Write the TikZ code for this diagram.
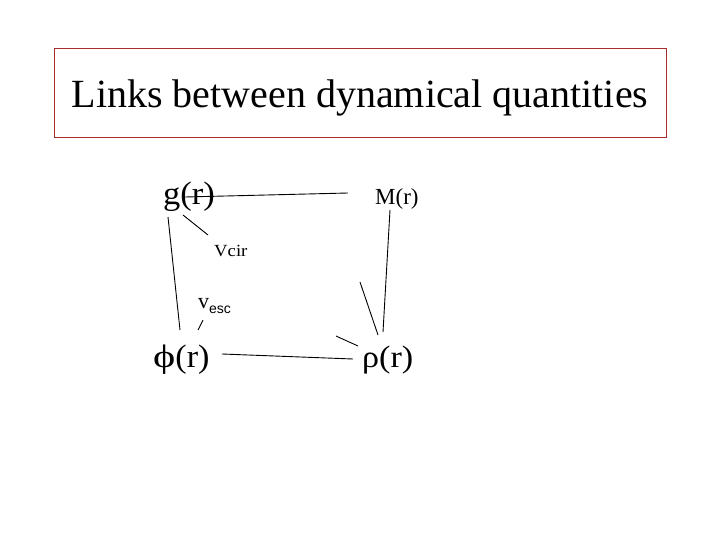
\documentclass[tikz,border=0pt]{standalone}
\usepackage{fontspec}
\setmainfont{Liberation Serif}
\newfontfamily\arialf{Liberation Sans}
\definecolor{boxred}{RGB}{165,45,45}
\begin{document}
\begin{tikzpicture}[x=1pt,y=-1pt,
  lbl/.style={inner sep=0pt,anchor=base west},
  link/.style={draw=black,line width=0.9pt}]
\useasboundingbox (0,0) rectangle (720,540);
\fill[white] (0,0) rectangle (720,540);
% title box
\draw[boxred,line width=0.9pt] (54,48) rectangle (666,137);
\node[inner sep=0pt,anchor=base] (title) at (360,108) {\fontsize{40}{44}\selectfont Links between dynamical quantities};
% quantities
\node[lbl] (g) at (163,205) {\scalebox{1.06}[1]{\fontsize{32.5}{36}\selectfont g(r)}};
\node[lbl] (M) at (375,205) {\fontsize{23}{26}\selectfont M(r)};
\node[lbl] (vcir) at (214,256) {\scalebox{1.1}[1]{\fontsize{17}{19}\selectfont Vcir}};
\node[lbl] (vesc) at (198,308) {\fontsize{22}{24}\selectfont v\raisebox{-5pt}{\arialf\fontsize{14}{16}\selectfont esc}};
\node[lbl] (phi) at (153,367) {\fontsize{32.5}{36}\selectfont\scalebox{1.3}[1]{ϕ}\scalebox{1.05}[1]{(r)}};
\node[lbl] (rho) at (362,367) {\scalebox{1.1}[1]{\fontsize{31}{35}\selectfont ρ(r)}};
% connector endpoints
\coordinate (gM1) at (185,197);
\coordinate (gM2) at (348,193);
\coordinate (vc1) at (183,215);
\coordinate (vc2) at (208,235);
\coordinate (gp1) at (168,217);
\coordinate (gp2) at (180,330);
\coordinate (Mr1) at (390,210);
\coordinate (Mr2) at (383,332);
\coordinate (xr1) at (360,282);
\coordinate (xr2) at (378,335);
\coordinate (yr1) at (336,336);
\coordinate (yr2) at (358,346);
\coordinate (pr1) at (222,354);
\coordinate (pr2) at (353,359);
\coordinate (ve1) at (203,320);
\coordinate (ve2) at (198,330);
\draw[link] (gM1) -- (gM2);
\draw[link] (vc1) -- (vc2);
\draw[link] (gp1) -- (gp2);
\draw[link] (Mr1) -- (Mr2);
\draw[link] (xr1) -- (xr2);
\draw[link] (yr1) -- (yr2);
\draw[link] (pr1) -- (pr2);
\draw[link] (ve1) -- (ve2);
\end{tikzpicture}
\end{document}
